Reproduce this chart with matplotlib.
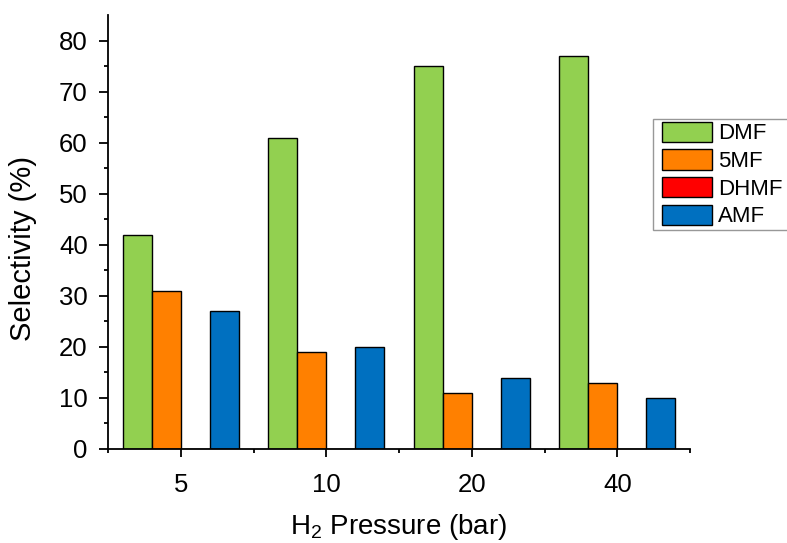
import matplotlib
matplotlib.use("Agg")
import matplotlib.pyplot as plt
from matplotlib.legend_handler import HandlerPatch
import numpy as np

plt.rcParams['font.family'] = ['Liberation Sans', 'DejaVu Sans']
plt.rcParams['mathtext.fontset'] = 'custom'
plt.rcParams['mathtext.rm'] = 'Liberation Sans'
plt.rcParams['mathtext.it'] = 'Liberation Sans:italic'

categories = ['5', '10', '20', '40']
series = ['DMF', '5MF', 'DHMF', 'AMF']
dmf = [42, 61, 75, 77]
mf5 = [31, 19, 11, 13]
dhmf = [0, 0, 0, 0]
amf = [27, 20, 14, 10]
values = [dmf, mf5, dhmf, amf]
colors = ['#92D050', '#FF8000', '#FF0000', '#0070C0']

fig = plt.figure(figsize=(7.87, 5.43), dpi=100)
ax = fig.add_axes([108/787, 1-449/543, (690-108)/787, (449-15)/543])

n = len(categories)
centers = np.arange(n) + 0.5
w = 0.2
handles = []
for i, (name, vals, c) in enumerate(zip(series, values, colors)):
    x = centers - 0.3 + i * w
    b = ax.bar(x, vals, width=w, color=c, edgecolor='black', linewidth=1.0, label=name)
    handles.append(b.patches[0])

ax.set_xlim(0, n)
ax.set_ylim(0, 85)
ax.set_xticks(centers)
ax.set_xticklabels(categories)
ax.set_xticks(np.arange(n + 1), minor=True)
ax.set_yticks(np.arange(0, 81, 10))
ax.set_yticks(np.arange(5, 85, 10), minor=True)

for s in ['top', 'right']:
    ax.spines[s].set_visible(False)
for s in ['left', 'bottom']:
    ax.spines[s].set_linewidth(1.3)

ax.tick_params(axis='x', which='major', direction='out', length=6, width=1.3, pad=11, labelsize=18.5)
ax.tick_params(axis='x', which='minor', direction='out', length=3, width=1.3)
ax.tick_params(axis='y', which='major', direction='out', length=6.5, width=1.3, pad=8, labelsize=18.5)
ax.tick_params(axis='y', which='minor', direction='out', length=3, width=1.3)

ax.set_ylabel('Selectivity (%)', fontsize=21)
ax.yaxis.set_label_coords(-0.122, 0.463)
ax.set_xlabel('H$_2$ Pressure (bar)', fontsize=20, labelpad=11)

fs = 16
fs_px = fs * 100 / 72
pad_px = 6
xpad = pad_px / fs_px
leg = fig.legend(handles=handles, labels=series, loc='upper left',
                 bbox_to_anchor=(653/787, 1-119/543, 0.2, 0), bbox_transform=fig.transFigure,
                 mode='expand',
                 fontsize=fs, frameon=True, fancybox=False, borderpad=0.12,
                 handlelength=56/fs_px, handleheight=23/fs_px, labelspacing=0.22,
                 handletextpad=6/fs_px, borderaxespad=0,
                 handler_map={h: HandlerPatch(xpad=xpad) for h in handles})
leg.get_frame().set_edgecolor('#7f7f7f')
leg.get_frame().set_linewidth(1.0)

fig.savefig('out.png', dpi=100)
